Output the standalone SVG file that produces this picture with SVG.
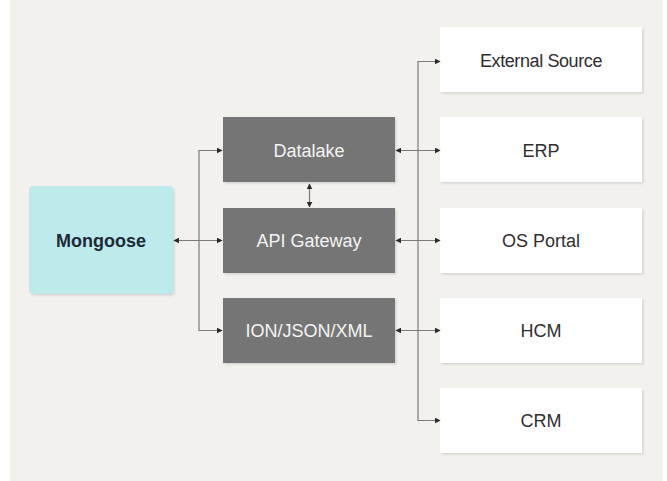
<svg xmlns="http://www.w3.org/2000/svg" width="667" height="481" viewBox="0 0 667 481">
<defs>
<style>
.bg{fill:#f2f1ee}
.dark rect{fill:#747474}
.dark text{fill:#f4f4f4;font-family:"Liberation Sans",Arial,sans-serif;font-size:18px;text-anchor:middle}
.ext rect{fill:#ffffff}
.ext text{fill:#2e2e30;font-family:"Liberation Sans",Arial,sans-serif;font-size:18px;text-anchor:middle}
.mg rect{fill:#bdeaeb}
.mg text{fill:#1d2b36;font-family:"Liberation Sans",Arial,sans-serif;font-size:18px;font-weight:bold;text-anchor:middle}
.conn path{fill:none;stroke:#7a7a7a;stroke-width:1.2}
</style>
<filter id="sh" x="-10%" y="-10%" width="125%" height="130%">
<feDropShadow dx="1.5" dy="1.5" stdDeviation="1.2" flood-color="#000" flood-opacity="0.12"/>
</filter>
<marker id="ah" viewBox="0 0 10 10" refX="9" refY="5" markerWidth="6" markerHeight="6" markerUnits="userSpaceOnUse" orient="auto-start-reverse">
<path d="M0,0 L10,5 L0,10 z" fill="#2a2a2a"/>
</marker>
</defs>
<rect x="0" y="0" width="667" height="481" fill="#ffffff"/>
<rect class="bg" x="10" y="0" width="653" height="481"/>

<g id="mongoose" class="mg">
<rect x="29" y="186" width="144" height="108" rx="4" filter="url(#sh)"/>
<text x="101" y="247">Mongoose</text>
</g>

<g id="datalake" class="dark">
<rect x="223" y="117" width="172" height="65" filter="url(#sh)"/>
<text x="309" y="157">Datalake</text>
</g>
<g id="api-gateway" class="dark">
<rect x="223" y="208" width="172" height="65" filter="url(#sh)"/>
<text x="309" y="247">API Gateway</text>
</g>
<g id="ion-json-xml" class="dark">
<rect x="223" y="298" width="172" height="65" filter="url(#sh)"/>
<text x="309" y="337">ION/JSON/XML</text>
</g>

<g id="external-source" class="ext">
<rect x="440" y="27" width="202" height="65" filter="url(#sh)"/>
<text x="541" y="67" letter-spacing="-0.4">External Source</text>
</g>
<g id="erp" class="ext">
<rect x="440" y="117" width="202" height="65" filter="url(#sh)"/>
<text x="541" y="157">ERP</text>
</g>
<g id="os-portal" class="ext">
<rect x="440" y="208" width="202" height="65" filter="url(#sh)"/>
<text x="541" y="247">OS Portal</text>
</g>
<g id="hcm" class="ext">
<rect x="440" y="298" width="202" height="65" filter="url(#sh)"/>
<text x="541" y="337">HCM</text>
</g>
<g id="crm" class="ext">
<rect x="440" y="388" width="202" height="65" filter="url(#sh)"/>
<text x="541" y="427">CRM</text>
</g>

<g id="connectors" class="conn">
<path d="M174,240.5 L222,240.5" marker-start="url(#ah)" marker-end="url(#ah)"/>
<path d="M222,150.5 L199,150.5 L199,330.5 L222,330.5" marker-start="url(#ah)" marker-end="url(#ah)"/>
<path d="M309.5,184 L309.5,207" marker-start="url(#ah)" marker-end="url(#ah)"/>
<path d="M440,61.5 L418,61.5 L418,420.5 L440,420.5" marker-start="url(#ah)" marker-end="url(#ah)"/>
<path d="M396,150.5 L440,150.5" marker-start="url(#ah)" marker-end="url(#ah)"/>
<path d="M396,240.5 L440,240.5" marker-start="url(#ah)" marker-end="url(#ah)"/>
<path d="M396,330.5 L440,330.5" marker-start="url(#ah)" marker-end="url(#ah)"/>
</g>
</svg>
